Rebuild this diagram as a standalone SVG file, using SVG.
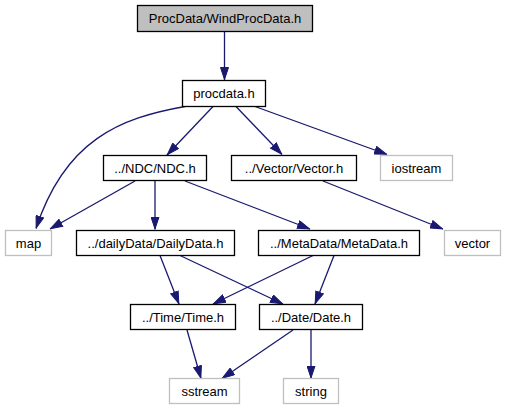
<svg xmlns="http://www.w3.org/2000/svg" width="506" height="411" viewBox="0 0 506 411">
<style>
.n rect{fill:#ffffff;stroke:#000000;stroke-width:1.3}
.n.g rect{stroke:#bfbfbf}
.n.top rect{fill:#bfbfbf}
text{font-family:"Liberation Sans",Arial,sans-serif;font-size:13px;text-anchor:middle;fill:#000000}
.e path{fill:none;stroke:#191970;stroke-width:1.3;marker-end:url(#ah)}
</style>
<defs>
<marker id="ah" viewBox="0 0 13 9" refX="13" refY="4.5" markerWidth="13" markerHeight="9" orient="auto" markerUnits="userSpaceOnUse">
<polygon points="0.5,0.5 12.5,4.5 0.5,8.5" fill="#191970" stroke="#191970"/>
</marker>
</defs>
<rect x="0" y="0" width="506" height="411" fill="#ffffff"/>
<g id="edges" class="e">
<path d="M224.5,32 L224.5,80"/>
<path d="M185,106.5 C120,118 65,140 36,228.5"/>
<path d="M213,106.5 L167,155"/>
<path d="M236,106.5 L282,154.5"/>
<path d="M255,106.5 L387,154.5"/>
<path d="M135,181 L50,229"/>
<path d="M155,181 L155,229.5"/>
<path d="M185,181 L310,229"/>
<path d="M323,181 L443,229"/>
<path d="M160,255.5 L179,304"/>
<path d="M180,255.5 L283,304"/>
<path d="M313,255.5 L213,304"/>
<path d="M334,255.5 L315,304"/>
<path d="M187,330 L201,378.5"/>
<path d="M293,330 L222,378.5"/>
<path d="M311,330 L311,378.5"/>
</g>
<g id="node_wind" class="n top"><rect x="137.5" y="5.5" width="175" height="26"/><text x="225" y="23">ProcData/WindProcData.h</text></g>
<g id="node_procdata" class="n"><rect x="182.5" y="80.5" width="83" height="26"/><text x="224" y="98">procdata.h</text></g>
<g id="node_ndc" class="n"><rect x="103.5" y="155.5" width="103" height="25"/><text x="155" y="173">../NDC/NDC.h</text></g>
<g id="node_vector_h" class="n"><rect x="231.5" y="155.5" width="125" height="25"/><text x="294" y="173">../Vector/Vector.h</text></g>
<g id="node_iostream" class="n g"><rect x="380.5" y="155.5" width="72" height="25"/><text x="416.5" y="173">iostream</text></g>
<g id="node_map" class="n g"><rect x="5.5" y="230.5" width="46" height="25"/><text x="28.5" y="248">map</text></g>
<g id="node_daily" class="n"><rect x="76.5" y="230.5" width="158" height="25"/><text x="155.5" y="248">../dailyData/DailyData.h</text></g>
<g id="node_meta" class="n"><rect x="258.5" y="230.5" width="161" height="25"/><text x="339" y="248">../MetaData/MetaData.h</text></g>
<g id="node_vector" class="n g"><rect x="444.5" y="230.5" width="56" height="25"/><text x="472.5" y="248">vector</text></g>
<g id="node_time" class="n"><rect x="130.5" y="304.5" width="105" height="25"/><text x="183" y="322">../Time/Time.h</text></g>
<g id="node_date" class="n"><rect x="259.5" y="304.5" width="103" height="25"/><text x="311" y="322">../Date/Date.h</text></g>
<g id="node_sstream" class="n g"><rect x="169.5" y="378.5" width="70" height="25"/><text x="204.5" y="396">sstream</text></g>
<g id="node_string" class="n g"><rect x="283.5" y="378.5" width="55" height="25"/><text x="311" y="396">string</text></g>
</svg>
